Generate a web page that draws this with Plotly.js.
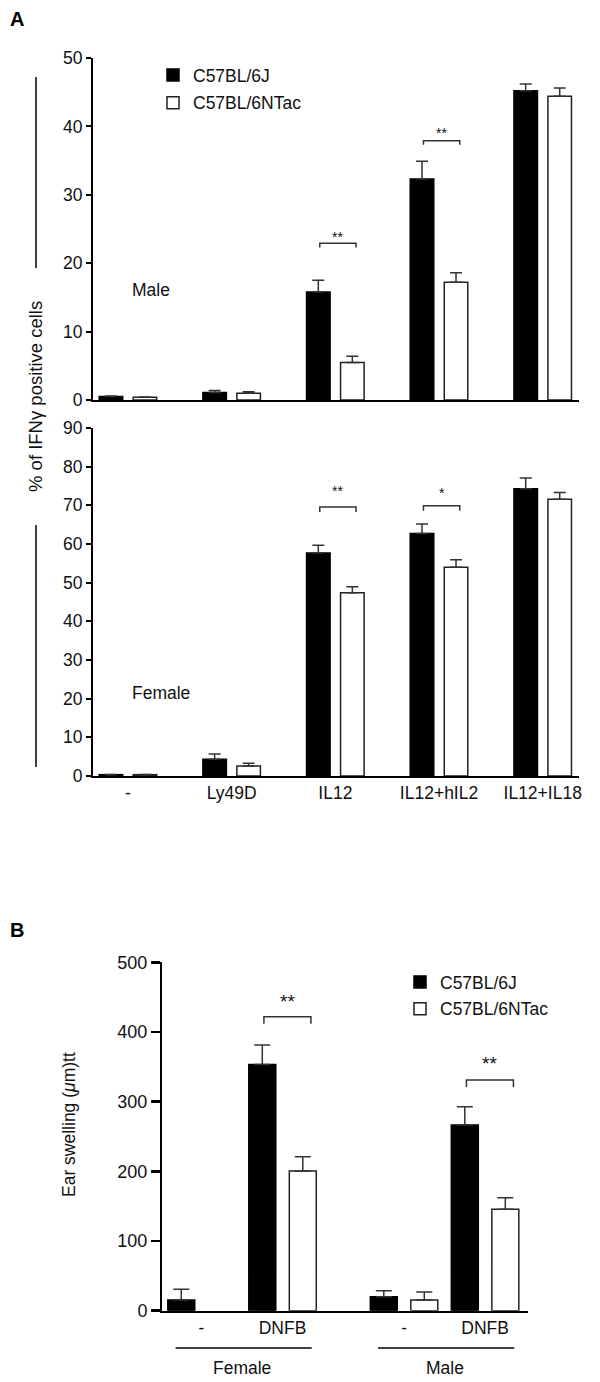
<!DOCTYPE html>
<html>
<head>
<meta charset="utf-8">
<script src="https://cdn.plot.ly/plotly-3.0.1.min.js"></script>
<style>html,body{margin:0;padding:0;background:#fff;}#chart{width:600px;height:1382px;}</style>
</head>
<body>
<div id="chart"></div>
<script>
// ---------- DATA ----------
const seriesNames = ['C57BL/6J', 'C57BL/6NTac'];

// Panel A: % of IFN-gamma positive cells
const stimuli = ['-', 'Ly49D', 'IL12', 'IL12+hIL2', 'IL12+IL18'];
const maleJ      = [0.5, 1.1, 15.8, 32.3, 45.2];
const maleJErr   = [0.1, 0.3, 1.7, 2.6, 1.0];
const maleN      = [0.4, 1.0, 5.5, 17.2, 44.4];
const maleNErr   = [0.05, 0.2, 0.9, 1.4, 1.2];
const femaleJ    = [0.35, 4.3, 57.7, 62.7, 74.3];
const femaleJErr = [0.05, 1.4, 2.0, 2.5, 2.8];
const femaleN    = [0.35, 2.6, 47.4, 54.0, 71.55];
const femaleNErr = [0.05, 0.7, 1.55, 1.9, 1.75];

// significance (panel A)
const sigMaleIdx    = [2, 3];
const sigMaleY      = [22.9, 37.9];
const sigMaleStarY  = [23.9, 39.05];
const sigMaleText   = ['**', '**'];
const sigFemaleIdx   = [2, 3];
const sigFemaleY     = [69.6, 69.9];
const sigFemaleStarY = [73.6, 73.3];
const sigFemaleText  = ['**', '*'];

// Panel B: ear swelling
const sexes = ['Female', 'Male'];
const treatments = ['-', 'DNFB'];
const earJ    = [15.4, 353.5, 20, 266.4];
const earJErr = [15.3, 27.7, 8.7, 26.3];
const earN    = [null, 200.4, 15.4, 145.5];
const earNErr = [null, 20.6, 11.4, 16.5];
const sigBIdx   = [1, 3];
const sigBY     = [421.8, 331];
const sigBStarY = [443.3, 355.4];
const sigBText  = ['**', '**'];

// ---------- LAYOUT HELPERS ----------
const W = 600, H = 1382;
const px = x => x / W;
const py = y => 1 - y / H;
const FONT = 'Liberation Sans, Arial, Helvetica, sans-serif';
const INK = '#111';
const ERR = '#333';

// positions
const xA = stimuli.map((_, i) => i);
const xB = [];
sexes.forEach((s, si) => treatments.forEach((t, ti) => xB.push(si * 2.5 + ti)));
const ticktextB = [];
sexes.forEach(() => treatments.forEach(t => ticktextB.push(t)));

// bar geometry
const wA = 0.227, slotA = 0.328;
const wB = 0.333, slotB = 0.5;

function barTrace(x, y, err, fill, name, xa, ya, w, slot, side, legend, showlegend, errw) {
  return {
    type: 'bar', x: x, y: y, name: name,
    xaxis: xa, yaxis: ya,
    width: w, offset: side * slot / 2 - w / 2,
    marker: {color: fill, line: {color: fill === '#000000' ? '#000000' : '#222', width: 1.5}},
    error_y: {type: 'data', symmetric: false, array: err, arrayminus: err.map(() => 0),
              color: ERR, thickness: 1.5, width: errw, visible: true},
    legend: legend, showlegend: showlegend, legendgroup: name + legend,
    hoverinfo: 'skip'
  };
}

const traces = [
  barTrace(xA, maleJ, maleJErr, '#000000', seriesNames[0], 'x', 'y', wA, slotA, -1, 'legend', true, 6),
  barTrace(xA, maleN, maleNErr, '#ffffff', seriesNames[1], 'x', 'y', wA, slotA, 1, 'legend', true, 6),
  barTrace(xA, femaleJ, femaleJErr, '#000000', seriesNames[0], 'x2', 'y2', wA, slotA, -1, 'legend', false, 6),
  barTrace(xA, femaleN, femaleNErr, '#ffffff', seriesNames[1], 'x2', 'y2', wA, slotA, 1, 'legend', false, 6),
  barTrace(xB, earJ, earJErr, '#000000', seriesNames[0], 'x3', 'y3', wB, slotB, -1, 'legend2', true, 8),
  barTrace(xB, earN, earNErr.map(v => v === null ? 0 : v), '#ffffff', seriesNames[1], 'x3', 'y3', wB, slotB, 1, 'legend2', true, 8)
];

// significance brackets
const annotations = [];
function addSig(idxArr, yArr, starArr, txtArr, xpos, xa, ya, l, r, leg, fs) {
  idxArr.forEach((g, k) => {
    const c = xpos[g];
    traces.push({
      type: 'scatter', mode: 'lines', xaxis: xa, yaxis: ya,
      x: [c + l, c + l, c + r, c + r], y: [yArr[k] - leg, yArr[k], yArr[k], yArr[k] - leg],
      line: {color: ERR, width: 1.5}, showlegend: false, hoverinfo: 'skip'
    });
    annotations.push({xref: xa, yref: ya, x: c + (l + r) / 2, y: starArr[k], text: txtArr[k],
      showarrow: false, xanchor: 'center', yanchor: 'middle', font: {family: FONT, size: fs, color: INK}});
  });
}
addSig(sigMaleIdx, sigMaleY, sigMaleStarY, sigMaleText, xA, 'x', 'y', -0.15, 0.2, 0.6, 14);
addSig(sigFemaleIdx, sigFemaleY, sigFemaleStarY, sigFemaleText, xA, 'x2', 'y2', -0.15, 0.2, 1.3, 14);
addSig(sigBIdx, sigBY, sigBStarY, sigBText, xB, 'x3', 'y3', -0.23, 0.35, 10, 19);

const tickFont = {family: FONT, size: 17.5, color: INK};
const axLine = {showline: true, linecolor: '#000', linewidth: 2, zeroline: false, showgrid: false, fixedrange: true};

annotations.push(
  {xref: 'paper', yref: 'paper', x: px(8), y: py(19), text: '<b>A</b>', showarrow: false, xanchor: 'left', yanchor: 'middle', font: {family: FONT, size: 20, color: '#000'}},
  {xref: 'paper', yref: 'paper', x: px(8), y: py(930), text: '<b>B</b>', showarrow: false, xanchor: 'left', yanchor: 'middle', font: {family: FONT, size: 20, color: '#000'}},
  {xref: 'paper', yref: 'paper', x: px(130), y: py(290), text: 'Male', showarrow: false, xanchor: 'left', yanchor: 'middle', font: {family: FONT, size: 17.5, color: INK}},
  {xref: 'paper', yref: 'paper', x: px(130), y: py(693), text: 'Female', showarrow: false, xanchor: 'left', yanchor: 'middle', font: {family: FONT, size: 17.5, color: INK}},
  {xref: 'paper', yref: 'paper', x: px(36), y: py(397), text: '% of IFNγ positive cells', textangle: -90, showarrow: false, xanchor: 'center', yanchor: 'middle', font: {family: FONT, size: 18.5, color: INK}},
  {xref: 'paper', yref: 'paper', x: px(69), y: py(1125), text: 'Ear swelling (<i>μ</i>m)tt', textangle: -90, showarrow: false, xanchor: 'center', yanchor: 'middle', font: {family: FONT, size: 17.5, color: INK}}
);
sexes.forEach((s, si) => {
  const a = xB[si * 2], b = xB[si * 2 + 1];
  annotations.push({xref: 'x3', yref: 'paper', x: (a + b) / 2, y: py(1368), text: s, showarrow: false,
    xanchor: 'center', yanchor: 'middle', font: {family: FONT, size: 17.5, color: INK}});
});

const shapes = [
  {type: 'line', xref: 'paper', yref: 'paper', x0: px(36), x1: px(36), y0: py(77), y1: py(268), line: {color: '#000', width: 1.5}},
  {type: 'line', xref: 'paper', yref: 'paper', x0: px(36), x1: px(36), y0: py(525), y1: py(767), line: {color: '#000', width: 1.5}}
];
sexes.forEach((s, si) => {
  const a = xB[si * 2], b = xB[si * 2 + 1];
  shapes.push({type: 'line', xref: 'x3', yref: 'paper', x0: a - 0.32, x1: b + 0.36, y0: py(1348), y1: py(1348), line: {color: '#000', width: 1.5}});
});

const layout = {
  width: W, height: H, margin: {l: 0, r: 0, t: 0, b: 0},
  paper_bgcolor: '#fff', plot_bgcolor: 'rgba(0,0,0,0)',
  barmode: 'overlay', showlegend: true,
  font: {family: FONT, color: INK},
  xaxis: Object.assign({}, axLine, {domain: [px(93), px(579)], range: [-0.337, 4.35], anchor: 'y', showticklabels: false, ticks: ''}),
  yaxis: Object.assign({}, axLine, {domain: [py(400), py(58)], range: [0, 50], anchor: 'x', tickvals: [0,10,20,30,40,50], ticks: 'outside', ticklen: 5, tickwidth: 2, tickcolor: '#000', tickfont: tickFont}),
  xaxis2: Object.assign({}, axLine, {domain: [px(93), px(579)], range: [-0.337, 4.35], anchor: 'y2', tickvals: xA, ticktext: stimuli, ticks: '', tickfont: tickFont}),
  yaxis2: Object.assign({}, axLine, {domain: [py(776), py(428)], range: [0, 90], anchor: 'x2', tickvals: [0,10,20,30,40,50,60,70,80,90], ticks: 'outside', ticklen: 5, tickwidth: 2, tickcolor: '#000', tickfont: tickFont}),
  xaxis3: Object.assign({}, axLine, {domain: [px(162), px(528)], range: [-0.488, 4.03], anchor: 'y3', tickvals: xB, ticktext: ticktextB, ticks: '', tickfont: tickFont}),
  yaxis3: Object.assign({}, axLine, {domain: [py(1310.7), py(962.3)], range: [0, 500], anchor: 'x3', tickvals: [0,100,200,300,400,500], ticks: 'outside', ticklen: 9, tickwidth: 2.5, tickcolor: '#000', tickfont: Object.assign({}, tickFont, {size: 18})}),
  legend: {x: px(153), y: py(57), xanchor: 'left', yanchor: 'top', bgcolor: 'rgba(0,0,0,0)', borderwidth: 0,
           font: {family: FONT, size: 17.5, color: INK}, traceorder: 'grouped', tracegroupgap: 2},
  legend2: {x: px(400), y: py(964), xanchor: 'left', yanchor: 'top', bgcolor: 'rgba(0,0,0,0)', borderwidth: 0,
           font: {family: FONT, size: 17.5, color: INK}, traceorder: 'grouped', tracegroupgap: 1},
  annotations: annotations, shapes: shapes
};

Plotly.newPlot('chart', traces, layout, {staticPlot: true, displayModeBar: false});
</script>
</body>
</html>
